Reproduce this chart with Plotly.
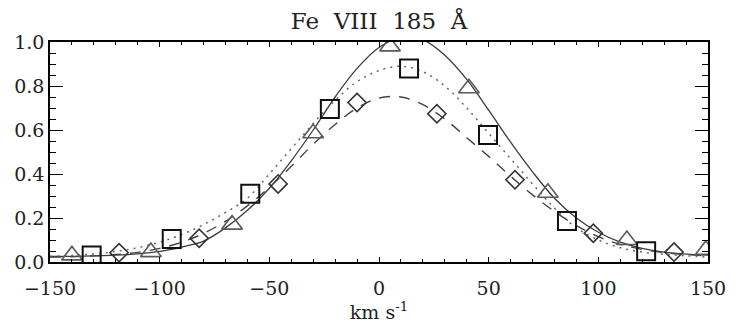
import plotly.graph_objects as go

# Velocity grid of the fitted curves (km/s) and curve values
vel = [-150, -140, -130, -120, -110, -100, -90, -80, -70, -60, -50, -40, -30, -20, -10,
       0, 10, 20, 30, 40, 50, 60, 70, 80, 90, 100, 110, 120, 130, 140, 150]
solid_curve = [0.025, 0.026, 0.028, 0.031, 0.037, 0.048, 0.068, 0.095, 0.155, 0.235, 0.335,
               0.46, 0.60, 0.75, 0.88, 0.975, 1.02, 1.01, 0.94, 0.83, 0.69, 0.545, 0.41,
               0.29, 0.20, 0.135, 0.09, 0.062, 0.045, 0.036, 0.031]
dotted_curve = [0.025, 0.03, 0.037, 0.048, 0.065, 0.09, 0.125, 0.17, 0.225, 0.29, 0.40,
                0.515, 0.63, 0.735, 0.82, 0.87, 0.89, 0.865, 0.80, 0.70, 0.585, 0.47, 0.355,
                0.245, 0.155, 0.10, 0.065, 0.045, 0.035, 0.028, 0.022]
dashed_curve = [0.022, 0.024, 0.028, 0.034, 0.044, 0.062, 0.09, 0.13, 0.185, 0.255, 0.34,
                0.435, 0.535, 0.625, 0.70, 0.745, 0.75, 0.715, 0.65, 0.565, 0.48, 0.39, 0.305,
                0.23, 0.165, 0.115, 0.08, 0.057, 0.043, 0.034, 0.028]

# Data points (markers)
tri_x = [-140, -104, -67, -30, 5, 41, 77, 113, 149]
tri_y = [0.03, 0.045, 0.17, 0.585, 0.98, 0.79, 0.315, 0.10, 0.055]
sq_x = [-131, -94.5, -58.7, -22.4, 13.7, 49.7, 85.7, 121.8]
sq_y = [0.03, 0.104, 0.31, 0.696, 0.88, 0.577, 0.186, 0.049]
dia_x = [-118.5, -82, -46, -10, 26.4, 62, 97.7, 134.5]
dia_y = [0.042, 0.108, 0.355, 0.725, 0.674, 0.374, 0.131, 0.045]

x_ticks = [-150, -100, -50, 0, 50, 100, 150]
y_ticks = [0.0, 0.2, 0.4, 0.6, 0.8, 1.0]

fig = go.Figure()
fig.add_trace(go.Scatter(x=vel, y=solid_curve, mode='lines',
                         line=dict(color='#3c3c3c', width=1.3, shape='spline')))
fig.add_trace(go.Scatter(x=vel, y=dotted_curve, mode='lines',
                         line=dict(color='#666666', width=1.5, shape='spline', dash='2px,5px')))
fig.add_trace(go.Scatter(x=vel, y=dashed_curve, mode='lines',
                         line=dict(color='#444444', width=1.4, shape='spline', dash='11px,9px')))
fig.add_trace(go.Scatter(x=tri_x, y=tri_y, mode='markers',
                         marker=dict(symbol='triangle-up-open', size=18, color='#5a5a5a',
                                     line=dict(color='#5a5a5a', width=1.6))))
fig.add_trace(go.Scatter(x=sq_x, y=sq_y, mode='markers',
                         marker=dict(symbol='square-open', size=18, color='#111111',
                                     line=dict(color='#111111', width=2))))
fig.add_trace(go.Scatter(x=dia_x, y=dia_y, mode='markers',
                         marker=dict(symbol='diamond-open', size=14, color='#333333',
                                     line=dict(color='#333333', width=1.6))))

axis_common = dict(showline=True, linecolor='black', linewidth=1.5, mirror='allticks',
                   ticks='inside', tickcolor='black', tickwidth=1.2,
                   showgrid=False, zeroline=False)

fig.update_layout(
    width=738, height=330,
    margin=dict(l=50, r=22, t=42, b=64),
    plot_bgcolor='white', paper_bgcolor='white',
    showlegend=False,
    font=dict(family='DejaVu Serif', size=19, color='#222222'),
    title=dict(text='Fe\u00a0 VIII\u00a0 185\u00a0 Å', x=0.5, xref='paper',
               y=1 - 21 / 330, yref='container', yanchor='middle', xanchor='center',
               font=dict(family='DejaVu Serif', size=23, color='#222222')),
    xaxis=dict(range=[-150, 150], tickvals=x_ticks, ticklen=5, ticklabelstandoff=8,
               minor=dict(dtick=10, tick0=0, ticks='inside', ticklen=3, tickcolor='black', showgrid=False),
               title=dict(text='km s<sup>-1</sup>', standoff=6, font=dict(size=19)),
               **axis_common),
    yaxis=dict(range=[0, 1], tickvals=y_ticks, tickformat='.1f', ticklen=13,
               minor=dict(dtick=0.05, tick0=0, ticks='inside', ticklen=6.5, tickcolor='black', showgrid=False),
               **axis_common),
)

fig.write_html("out.html")
